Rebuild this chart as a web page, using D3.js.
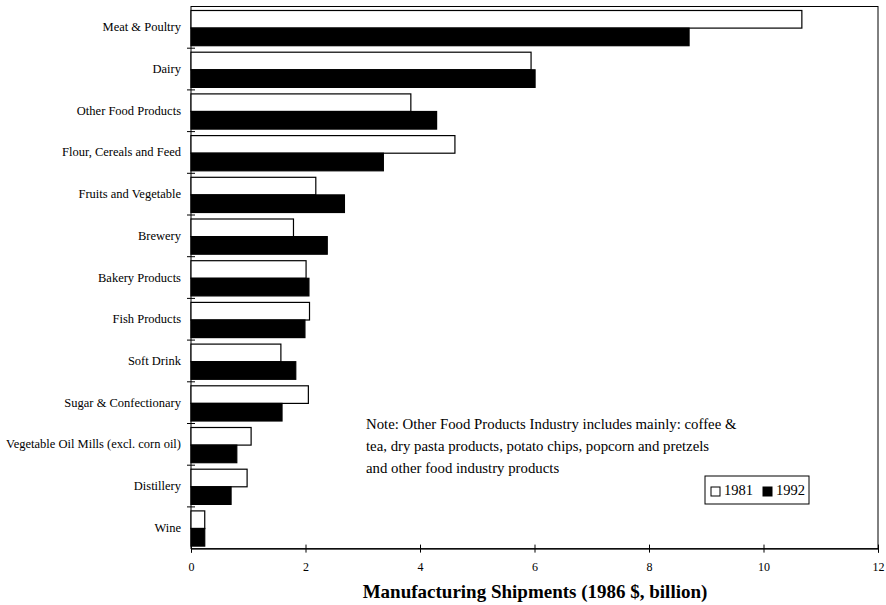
<!DOCTYPE html>
<html>
<head>
<meta charset="utf-8">
<script src="https://cdn.jsdelivr.net/npm/d3@7"></script>
<style>
  body { margin: 0; background: #fff; }
  text { font-family: "Liberation Serif", "Times New Roman", serif; fill: #000; }
</style>
</head>
<body>
<div id="chart"></div>
<script>
// categories and shipments (1986 $, billion)
const categories = ["Meat & Poultry", "Dairy", "Other Food Products", "Flour, Cereals and Feed",
  "Fruits and Vegetable", "Brewery", "Bakery Products", "Fish Products", "Soft Drink",
  "Sugar & Confectionary", "Vegetable Oil Mills (excl. corn oil)", "Distillery", "Wine"];
const values1981 = [10.67, 5.94, 3.84, 4.61, 2.18, 1.79, 2.01, 2.07, 1.57, 2.05, 1.05, 0.98, 0.24];
const values1992 = [8.70, 6.01, 4.29, 3.36, 2.68, 2.38, 2.06, 1.99, 1.83, 1.59, 0.80, 0.70, 0.24];
const series = ["1981", "1992"];
const xTicks = [0, 2, 4, 6, 8, 10, 12];
const noteLines = [
  "Note: Other Food Products Industry includes mainly: coffee &",
  "tea, dry pasta products, potato chips, popcorn and pretzels",
  "and other food industry products"
];

const width = 886, height = 605;
const plotLeft = 191, plotRight = 878, plotTop = 6.5, plotBottom = 548.6;

const svg = d3.select("#chart").append("svg")
  .attr("width", width)
  .attr("height", height);

const x = d3.scaleLinear().domain([0, 12]).range([plotLeft, plotRight]);
const y = d3.scaleBand().domain(categories).range([plotTop, plotBottom]);
const ySub = d3.scaleBand().domain(series).range([4, y.bandwidth() - 2.5]);

const rows = categories.map((c, i) => ({ cat: c, v: [values1981[i], values1992[i]] }));

// plot frame
svg.append("rect")
  .attr("x", plotLeft).attr("y", plotTop)
  .attr("width", plotRight - plotLeft).attr("height", plotBottom - plotTop)
  .attr("fill", "none").attr("stroke", "#000").attr("stroke-width", 1);

const g = svg.append("g").selectAll("g")
  .data(rows).enter().append("g")
  .attr("transform", d => `translate(0,${y(d.cat)})`);

g.selectAll("rect")
  .data(d => d.v.map((v, k) => ({ s: series[k], v })))
  .enter().append("rect")
  .attr("x", x(0))
  .attr("y", d => ySub(d.s))
  .attr("width", d => x(d.v) - x(0))
  .attr("height", ySub.bandwidth())
  .attr("fill", d => d.s === "1981" ? "#fff" : "#000")
  .attr("stroke", "#000")
  .attr("stroke-width", 1.2);

// x axis
const xAxis = svg.append("g")
  .attr("transform", `translate(0,${plotBottom})`)
  .call(d3.axisBottom(x).tickValues(xTicks).tickSize(4).tickPadding(10));
xAxis.select(".domain").attr("stroke", "#000");
xAxis.selectAll(".tick line").attr("y1", -4).attr("y2", 4);
xAxis.selectAll(".tick text")
  .style("font-family", "'Liberation Serif', serif")
  .style("font-size", "12px");

// y axis: labels centered in each band, ticks at band boundaries
const yAxis = svg.append("g")
  .attr("transform", `translate(${plotLeft},0)`)
  .call(d3.axisLeft(y).tickSize(0).tickPadding(10));
yAxis.select(".domain").remove();
yAxis.selectAll(".tick text")
  .style("font-family", "'Liberation Serif', serif")
  .style("font-size", "12.5px");
svg.append("g").selectAll("line")
  .data(categories.slice(1))
  .enter().append("line")
  .attr("x1", plotLeft - 4).attr("x2", plotLeft + 4)
  .attr("y1", d => y(d)).attr("y2", d => y(d))
  .attr("stroke", "#000");

// axis title
svg.append("text")
  .attr("x", 535).attr("y", 598)
  .attr("text-anchor", "middle")
  .style("font-size", "19px")
  .style("font-weight", "bold")
  .text("Manufacturing Shipments (1986 $, billion)");

// note
svg.append("g").selectAll("text")
  .data(noteLines).enter().append("text")
  .attr("x", 366)
  .attr("y", (d, i) => 429 + i * 22)
  .style("font-size", "14.8px")
  .text(d => d);

// legend
const lg = svg.append("g").attr("transform", "translate(705,476)");
lg.append("rect")
  .attr("width", 104).attr("height", 28)
  .attr("fill", "#fff").attr("stroke", "#000");
const items = lg.selectAll("g.item").data(series).enter().append("g")
  .attr("transform", (d, i) => `translate(${6 + i * 52},0)`);
items.append("rect")
  .attr("x", 0).attr("y", 11)
  .attr("width", 9).attr("height", 9)
  .attr("fill", d => d === "1981" ? "#fff" : "#000")
  .attr("stroke", "#000");
items.append("text")
  .attr("x", 13).attr("y", 19)
  .style("font-size", "14.5px")
  .text(d => d);
</script>
</body>
</html>
